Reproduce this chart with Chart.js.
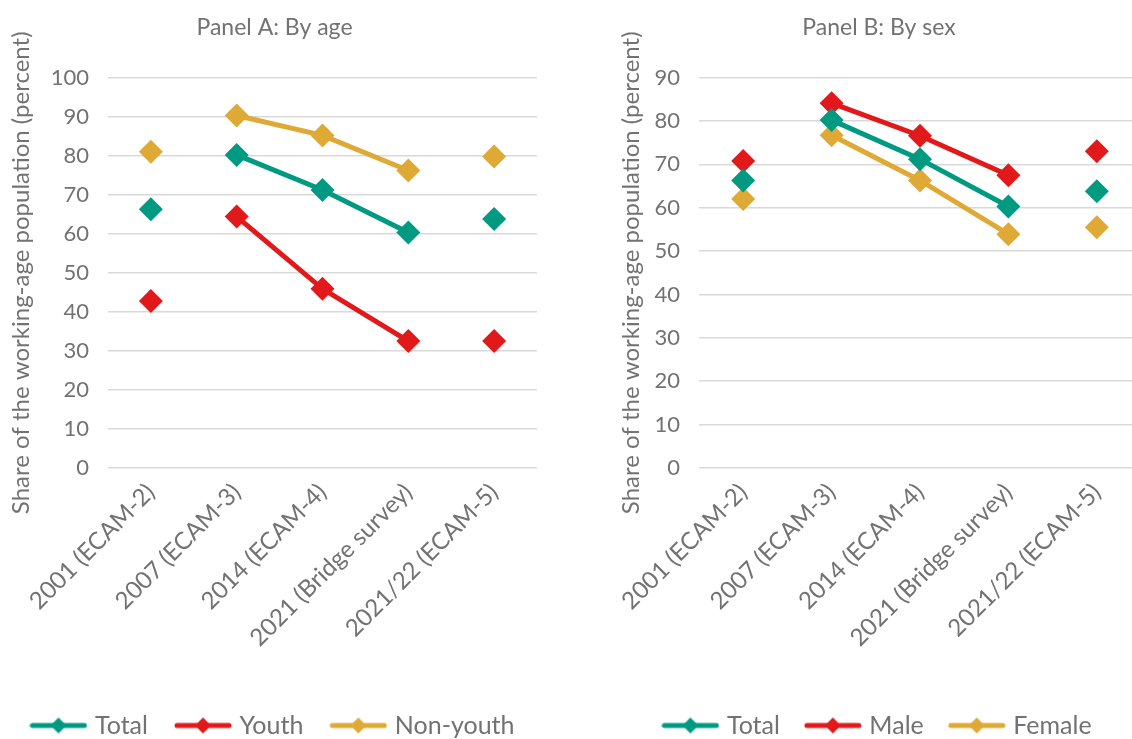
<!DOCTYPE html>
<html>
<head>
<meta charset="utf-8">
<script src="https://cdn.jsdelivr.net/npm/chart.js@4.4.1/dist/chart.umd.min.js"></script>
<style>
  html, body { margin: 0; padding: 0; background: #fff; overflow: hidden; }
  #page { position: relative; width: 1132px; height: 739px; overflow: hidden; }
  .panel { position: absolute; top: 0; height: 748px; }
  #left { left: 0; width: 549px; }
  #right { left: 605px; width: 548px; }
</style>
</head>
<body>
<div id="page">
  <div class="panel" id="left"><canvas id="chartA"></canvas></div>
  <div class="panel" id="right"><canvas id="chartB"></canvas></div>
</div>
<script>
// survey rounds (x axis)
const categories = ["2001 (ECAM-2)", "2007 (ECAM-3)", "2014 (ECAM-4)", "2021 (Bridge survey)", "2021/22 (ECAM-5)"];

// Panel A: by age
const ageTotal = [66.3, 80.2, 71.2, 60.3, 63.8];
const ageYouth = [42.8, 64.4, 45.9, 32.5, 32.5];
const ageNonYouth = [81.0, 90.3, 85.2, 76.2, 79.8];

// Panel B: by sex
const sexTotal = [66.3, 80.2, 71.2, 60.3, 63.8];
const sexMale = [70.8, 84.1, 76.6, 67.5, 73.0];
const sexFemale = [62.0, 76.7, 66.3, 53.9, 55.5];

const yTicksA = { max: 100, step: 10 };
const yTicksB = { max: 90, step: 10 };

const TEAL = "#009a83";
const RED = "#e2191b";
const GOLD = "#dfa935";
const TEXT = "#727272";
const FONT = "Lato, 'Open Sans', sans-serif";

// legend swatch: line with a diamond in the middle
function swatch(color) {
  const c = document.createElement("canvas");
  c.width = 58;
  c.height = 18;
  const g = c.getContext("2d");
  g.strokeStyle = color;
  g.lineWidth = 5;
  g.lineCap = "round";
  g.beginPath();
  g.moveTo(3, 9);
  g.lineTo(55, 9);
  g.stroke();
  g.fillStyle = color;
  g.beginPath();
  g.moveTo(29, 1);
  g.lineTo(37, 9);
  g.lineTo(29, 17);
  g.lineTo(21, 9);
  g.closePath();
  g.fill();
  return c;
}

// only 2007 -> 2014 -> 2021 bridge points are joined
const hideGaps = {
  borderColor: ctx => (ctx.p0DataIndex === 0 || ctx.p1DataIndex === 4) ? "rgba(0,0,0,0)" : undefined
};

function series(label, data, color) {
  return {
    label: label,
    data: data,
    borderColor: color,
    backgroundColor: color,
    pointBackgroundColor: color,
    pointBorderWidth: 0,
    pointStyle: "rectRot",
    pointRadius: 12,
    pointHoverRadius: 12,
    borderWidth: 5,
    segment: hideGaps
  };
}

function makeChart(id, title, datasets, yTicks, axisWidth, titlePad, legendPad) {
  // keep the plot bottom on the same line whatever the legend spacing
  const xHeight = 245 - legendPad;
  return new Chart(document.getElementById(id), {
    type: "line",
    data: { labels: categories, datasets: datasets },
    options: {
      responsive: true,
      maintainAspectRatio: false,
      animation: false,
      layout: { padding: 0 },
      scales: {
        x: {
          offset: true,
          grid: { display: false, drawTicks: false },
          border: { display: false },
          ticks: {
            autoSkip: false,
            maxRotation: 45,
            minRotation: 45,
            padding: 10,
            color: TEXT,
            font: { family: FONT, size: 24 }
          },
          afterFit: s => { s.height = xHeight; }
        },
        y: {
          min: 0,
          max: yTicks.max,
          grid: { color: "#d9d9d9", lineWidth: 1.5, drawTicks: false },
          border: { display: false },
          ticks: {
            stepSize: yTicks.step,
            padding: 19,
            color: TEXT,
            font: { family: FONT, size: 22 }
          },
          title: {
            display: true,
            text: "Share of the working-age population (percent)",
            color: TEXT,
            font: { family: FONT, size: 24 },
            padding: { top: titlePad, bottom: 0 }
          },
          afterFit: s => { s.width = axisWidth; }
        }
      },
      plugins: {
        title: {
          display: true,
          text: title,
          color: TEXT,
          font: { family: FONT, size: 23, weight: "normal" },
          padding: { top: 14, bottom: 36 }
        },
        legend: {
          position: "bottom",
          labels: {
            usePointStyle: true,
            pointStyleWidth: 48,
            padding: legendPad,
            color: TEXT,
            font: { family: FONT, size: 25 },
            generateLabels: chart => {
              const items = Chart.defaults.plugins.legend.labels.generateLabels(chart);
              items.forEach(it => {
                it.pointStyle = swatch(chart.data.datasets[it.datasetIndex].borderColor);
              });
              return items;
            }
          }
        },
        tooltip: { enabled: false }
      }
    }
  });
}

makeChart("chartA", "Panel A: By age", [
  series("Total", ageTotal, TEAL),
  series("Youth", ageYouth, RED),
  series("Non-youth", ageNonYouth, GOLD)
], yTicksA, 108, 7, 31);

makeChart("chartB", "Panel B: By sex", [
  series("Total", sexTotal, TEAL),
  series("Male", sexMale, RED),
  series("Female", sexFemale, GOLD)
], yTicksB, 94, 12, 29);
</script>
</body>
</html>
